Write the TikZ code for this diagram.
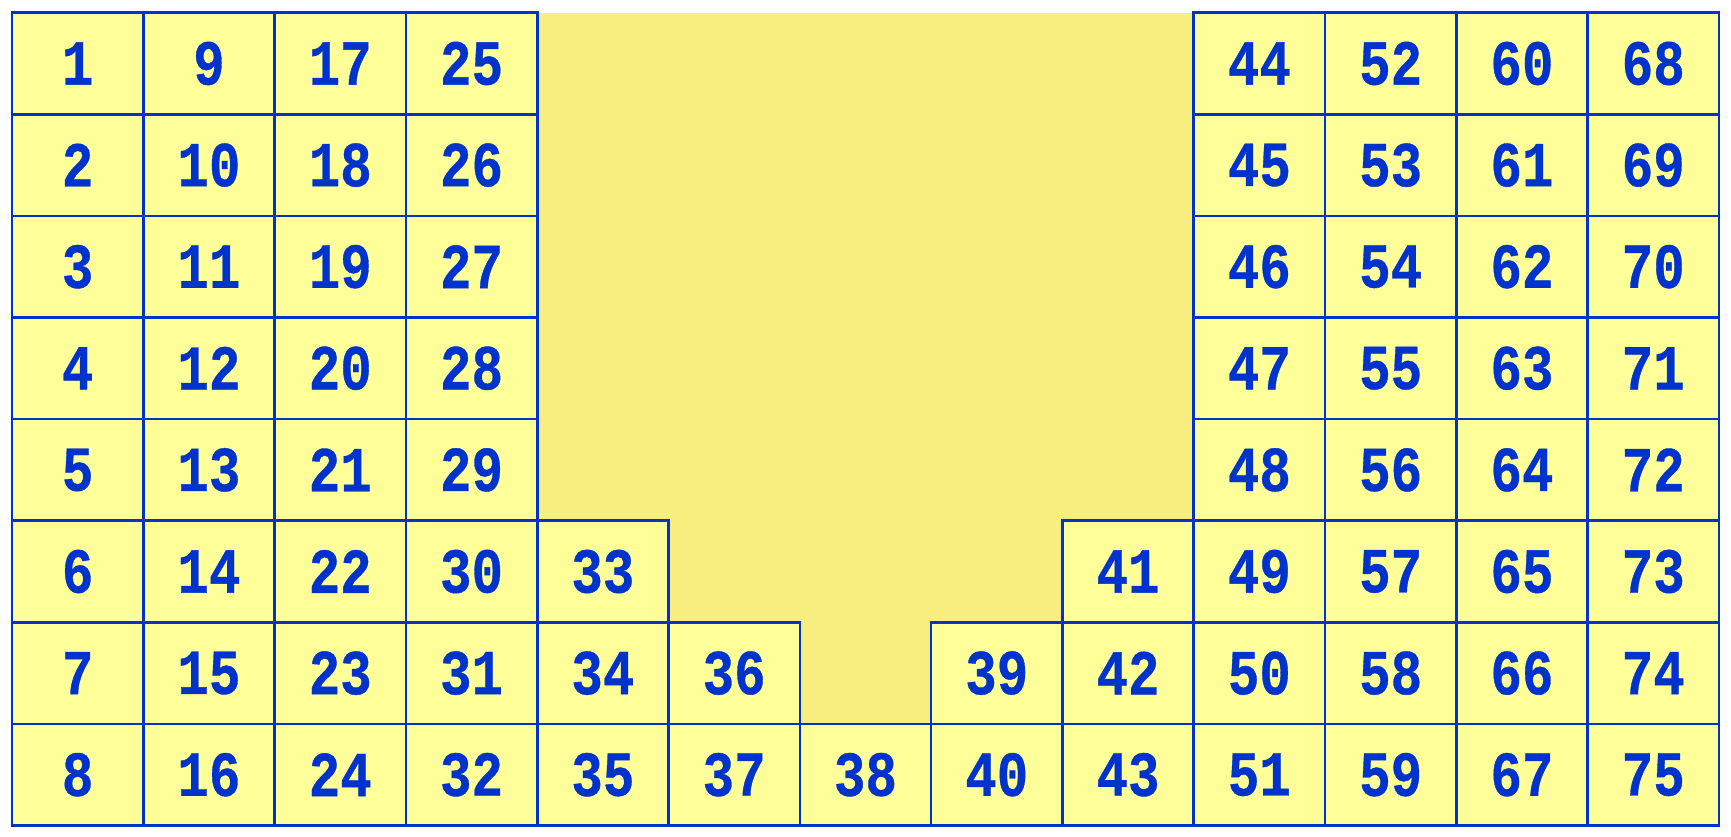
\documentclass[tikz,border=0pt]{standalone}
\usepackage{graphicx}
\usepackage{fontspec}
\newfontfamily\cellfont[FakeBold=0.6]{Liberation Mono Bold}
\definecolor{cellfill}{HTML}{FFFF99}
\definecolor{gapfill}{HTML}{F8EE80}
\definecolor{lineblue}{HTML}{0033CC}
\newcommand{\cellnum}[1]{\scalebox{0.82}[1]{#1}}
\begin{document}
\begin{tikzpicture}[x=1pt,y=1pt,
  cell/.style={draw=lineblue, fill=cellfill, line width=2.6pt, rectangle,
    minimum width=131.3pt, minimum height=101.6pt, inner sep=0pt,
    text=lineblue, font=\fontsize{64}{64}\cellfont},
  gap/.style={fill=gapfill, draw=none}]
\useasboundingbox (0,0) rectangle (1731,837);
\fill[white] (0,0) rectangle (1731,837);
\def\xo{12}\def\yt{824.3}\def\cw{131.3}\def\rh{101.6}
\fill[gap] (\xo+4*\cw,\yt) rectangle (\xo+9*\cw,\yt-7*\rh);
\foreach \c/\s/\f in {0/0/1,1/0/9,2/0/17,3/0/25,4/5/33,5/6/36,6/7/38,7/6/39,8/5/41,9/0/44,10/0/52,11/0/60,12/0/68}{
  \foreach \r in {\s,...,7}{
    \pgfmathtruncatemacro\n{\f+\r-\s}
    \node[cell] (c\n) at ({\xo+(\c+0.5)*\cw},{\yt-(\r+0.5)*\rh}) {\cellnum{\n}};
  }
}
\end{tikzpicture}
\end{document}
